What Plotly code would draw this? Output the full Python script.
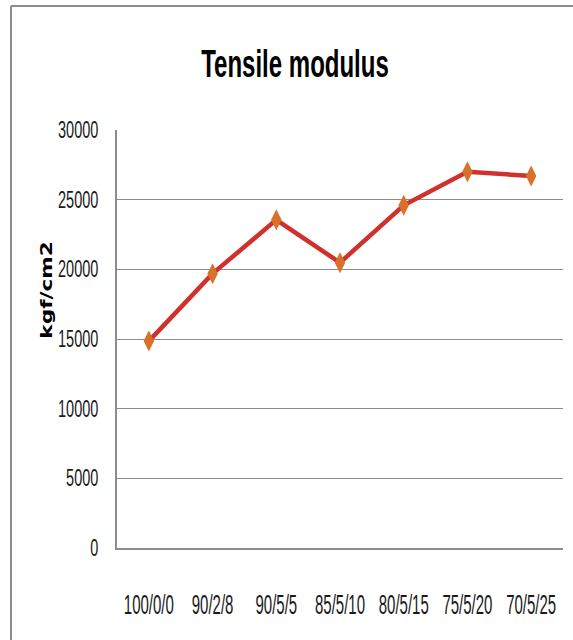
import plotly.graph_objects as go

categories = ["100/0/0", "90/2/8", "90/5/5", "85/5/10", "80/5/15", "75/5/20", "70/5/25"]
modulus = [14850, 19690, 23550, 20480, 24600, 27000, 26700]
y_ticks = [0, 5000, 10000, 15000, 20000, 25000, 30000]
y_tick_text = ["0", "5000", "10000", "15000", "20000", "25000", "30000"]

W, H = 573, 640
L, R, T, B = 117, 10, 130, 92
pw, ph = W - L - R, H - T - B

font = "Liberation Sans, Arial, sans-serif"

fig = go.Figure()
fig.add_trace(go.Scatter(
    x=categories, y=modulus, mode="lines+markers",
    line=dict(color="#D0312D", width=4.5),
    marker=dict(symbol="diamond-tall", size=15, color="#D9702C",
                line=dict(color="#D9702C", width=0)),
    showlegend=False,
))

fig.update_layout(
    width=W, height=H,
    margin=dict(l=L, r=R, t=T, b=B),
    paper_bgcolor="white", plot_bgcolor="white",
    title=dict(text="<b>Tensile modulus</b>", x=295 / W, xanchor="center",
               y=1 - 63 / H, yanchor="middle",
               font=dict(family=font, size=24, color="black")),
    xaxis=dict(
        type="category", showgrid=False, showline=True, linecolor="#8C8C8C",
        linewidth=1.5, ticks="", ticklabelstandoff=42,
        tickfont=dict(family=font, size=15, color="#1a1a1a"),
        range=[-0.5, 6.5],
    ),
    yaxis=dict(
        range=[0, 30000], tickvals=y_ticks, ticktext=y_tick_text,
        showgrid=True, gridcolor="#8C8C8C",
        gridwidth=1, showline=True, linecolor="#8C8C8C", linewidth=1.5,
        ticks="", ticklabelstandoff=14, zeroline=False,
        tickfont=dict(family=font, size=14.5, color="#1a1a1a"),
    ),
    annotations=[dict(
        text="<b>kgf/cm2</b>", textangle=-90, xref="paper", yref="paper",
        x=(46 - L) / pw, y=(548 - 290) / ph, xanchor="center", yanchor="middle",
        showarrow=False, font=dict(family="DejaVu Sans", size=16, color="black"),
    )],
    shapes=[
        dict(type="line", xref="paper", yref="paper",
             x0=(11 - L) / pw, x1=(W - L) / pw, y0=(548 - 6) / ph, y1=(548 - 6) / ph,
             line=dict(color="#8C8C8C", width=2)),
        dict(type="line", xref="paper", yref="paper",
             x0=(11 - L) / pw, x1=(11 - L) / pw, y0=(548 - 6) / ph, y1=(548 - H) / ph,
             line=dict(color="#8C8C8C", width=2)),
    ],
)

post = """
document.body.style.margin = '0';
var gd = document.getElementById('{plot_id}');
function stretch(sel, sx, sy) {
  gd.querySelectorAll(sel).forEach(function (t) {
    var b = t.getBBox();
    var cx = b.x + b.width / 2, cy = b.y + b.height / 2;
    var tr = t.getAttribute('transform') || '';
    t.setAttribute('transform', tr + ' translate(' + cx + ',' + cy + ') scale(' + sx + ',' + sy + ') translate(' + (-cx) + ',' + (-cy) + ')');
  });
}
stretch('.xtick text', 1, 1.8);
stretch('.ytick text', 1, 1.6);
stretch('.gtitle', 1, 1.65);
stretch('.annotation-text', 1.35, 1);
"""

fig.write_html("out.html", post_script=post, config={"displayModeBar": False})
